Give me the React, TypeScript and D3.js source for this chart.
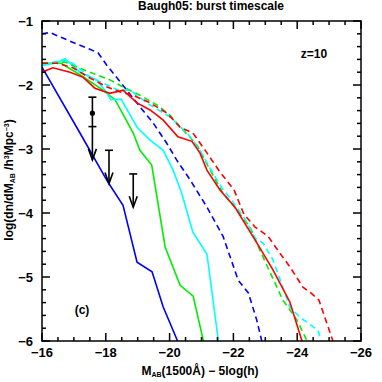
import { scaleLinear, line, range } from "d3"

// Luminosity function curves, [M_AB, log(dn/dM)]
const blueSolid: [number, number][] = [
  [-16, -1.72], [-17.19, -2.75], [-18.07, -3.52], [-18.54, -3.88], [-18.98, -4.77],
  [-19.45, -4.92], [-19.8, -5.47], [-20.25, -6.0],
]
const blueDashed: [number, number][] = [
  [-16, -1.2], [-16.25, -1.18], [-16.67, -1.27], [-17.09, -1.36], [-17.5, -1.44],
  [-17.76, -1.5], [-18.03, -1.69], [-18.45, -1.95], [-19.07, -2.34], [-19.48, -2.59],
  [-19.91, -2.91], [-20.22, -3.17], [-20.64, -3.48], [-21.16, -3.9], [-21.68, -4.37],
  [-22.15, -5.05], [-22.47, -5.25], [-22.73, -5.67], [-22.89, -6.0],
]
const greenSolid: [number, number][] = [
  [-16, -1.66], [-16.6, -1.66], [-17.19, -1.84], [-17.82, -2.05], [-18.29, -2.23],
  [-18.86, -2.75], [-19.07, -3.02], [-19.44, -3.25], [-19.86, -4.53], [-20.33, -5.13],
  [-20.74, -5.3], [-21.06, -6.0],
]
const greenDashed: [number, number][] = [
  [-16, -1.66], [-16.72, -1.64], [-17.1, -1.72], [-17.5, -1.8], [-18.13, -1.92],
  [-18.54, -2.03], [-19.07, -2.16], [-19.6, -2.31], [-20.01, -2.47], [-20.42, -2.7],
  [-20.86, -2.94], [-21.27, -3.33], [-21.67, -3.69], [-21.99, -3.88], [-22.52, -4.22],
  [-22.83, -4.58], [-23.55, -5.36], [-23.99, -5.67], [-24.31, -6.0],
]
const cyanSolid: [number, number][] = [
  [-16, -1.69], [-16.41, -1.66], [-16.72, -1.59], [-17.19, -1.8], [-17.72, -1.92],
  [-18.04, -2.13], [-18.16, -2.23], [-18.48, -2.22], [-18.98, -2.66], [-19.39, -2.86],
  [-19.8, -3.02], [-20.11, -3.33], [-20.38, -3.69], [-20.73, -4.3], [-21.17, -4.64],
  [-21.53, -6.0],
]
const cyanDashed: [number, number][] = [
  [-16, -1.69], [-16.66, -1.61], [-16.97, -1.66], [-17.5, -1.88], [-17.91, -1.97],
  [-18.38, -2.08], [-18.76, -2.08], [-19.29, -2.28], [-20.01, -2.5], [-20.55, -2.75],
  [-20.95, -3.02], [-21.36, -3.38], [-21.64, -3.61], [-21.99, -3.83], [-22.36, -4.09],
  [-22.68, -4.39], [-22.93, -4.47], [-23.24, -4.73], [-23.77, -5.47], [-24.09, -5.63],
  [-24.65, -5.83], [-24.75, -6.0],
]
const redSolid: [number, number][] = [
  [-16, -1.8], [-16.34, -1.73], [-16.88, -1.8], [-17.29, -1.88], [-17.66, -2.05],
  [-18.13, -2.13], [-18.54, -2.08], [-18.98, -2.28], [-19.39, -2.39], [-19.8, -2.55],
  [-20.26, -2.81], [-20.7, -2.88], [-20.95, -3.06], [-21.17, -3.33], [-21.58, -3.64],
  [-22.05, -3.91], [-22.74, -4.47], [-23.24, -4.89], [-23.77, -5.39], [-24.15, -6.0],
]
const redDashed: [number, number][] = [
  [-16, -1.66], [-16.47, -1.66], [-16.97, -1.73], [-17.5, -1.89], [-18.04, -2.03],
  [-18.45, -2.11], [-18.86, -2.16], [-19.39, -2.28], [-19.92, -2.44], [-20.33, -2.66],
  [-20.73, -2.75], [-21.17, -3.06], [-21.58, -3.36], [-22.02, -3.64], [-22.33, -4.02],
  [-22.68, -4.22], [-23.08, -4.36], [-23.46, -4.63], [-23.77, -4.84], [-24.18, -5.16],
  [-24.43, -5.25], [-24.68, -5.36], [-25.12, -6.0],
]

// observations: point with error bar, and upper limits drawn as arrows
const obsPoint = { x: -17.58, y: -2.44, hi: -2.19, lo: -2.65 }
const limitX = [-17.58, -18.1, -18.86]
const limitY = [-2.65, -3.02, -3.39]
const arrowLen = 0.52

const xTicks = [-16, -18, -20, -22, -24, -26]
const yTicks = [-1, -2, -3, -4, -5, -6]

const curves = [
  { data: blueSolid, color: "#0000ff", dash: null },
  { data: greenSolid, color: "#00ee00", dash: null },
  { data: cyanSolid, color: "#00ffff", dash: null },
  { data: blueDashed, color: "#0000ff", dash: "6,4" },
  { data: greenDashed, color: "#00ee00", dash: "6,4" },
  { data: cyanDashed, color: "#00ffff", dash: "6,4" },
  { data: redDashed, color: "#ff0000", dash: "6,4" },
  { data: redSolid, color: "#ff0000", dash: null },
]

export default function App() {
  const W = 382, H = 382
  const left = 42, right = 361, top = 21, bottom = 341
  const x = scaleLinear([-16, -26], [left, right])
  const y = scaleLinear([-1, -6], [top, bottom])
  const path = line<[number, number]>().x(d => x(d[0])).y(d => y(d[1]))

  const font = "'Liberation Sans', Arial, sans-serif"
  const xMinor = range(-16, -26.01, -0.5)
  const yMinor = range(-1, -6.01, -0.2)

  return (
    <svg width={W} height={H} style={{ position: "absolute", left: 0, top: 0, background: "#fff" }}
      fontFamily={font} fontWeight="bold">
      <defs>
        <clipPath id="plot">
          <rect x={left} y={top} width={right - left} height={bottom - top} />
        </clipPath>
      </defs>

      {/* curves */}
      <g clipPath="url(#plot)" fill="none" strokeWidth={1.6}>
        {curves.map((c, i) => (
          <path key={i} d={path(c.data) ?? ""} stroke={c.color}
            strokeDasharray={c.dash ?? undefined} />
        ))}
      </g>

      {/* observations */}
      <g stroke="#000" strokeWidth={1.6} fill="none">
        <line x1={x(obsPoint.x)} x2={x(obsPoint.x)} y1={y(obsPoint.hi)} y2={y(obsPoint.lo)} />
        <line x1={x(obsPoint.x) - 4} x2={x(obsPoint.x) + 4} y1={y(obsPoint.hi)} y2={y(obsPoint.hi)} />
        <circle cx={x(obsPoint.x)} cy={y(obsPoint.y)} r={1.8} fill="#000" />
        {limitX.map((lx, i) => {
          const px = x(lx), y0 = y(limitY[i]), y1 = y(limitY[i] - arrowLen)
          return (
            <g key={i}>
              <line x1={px - 4} x2={px + 4} y1={y0} y2={y0} />
              <line x1={px} x2={px} y1={y0} y2={y1} />
              <path d={`M${px - 4},${y1 - 11}L${px},${y1}L${px + 4},${y1 - 11}`} />
            </g>
          )
        })}
      </g>

      {/* frame + ticks */}
      <g stroke="#000" strokeWidth={1.5}>
        <rect x={left} y={top} width={right - left} height={bottom - top} fill="none" />
        {xMinor.map((t, i) => {
          const len = Math.abs(t % 2) < 1e-6 ? 8 : 4
          return (
            <g key={i}>
              <line x1={x(t)} x2={x(t)} y1={bottom} y2={bottom - len} />
              <line x1={x(t)} x2={x(t)} y1={top} y2={top + len} />
            </g>
          )
        })}
        {yMinor.map((t, i) => {
          const len = Math.abs(t - Math.round(t)) < 1e-6 ? 8 : 4
          return (
            <g key={i}>
              <line x1={left} x2={left + len} y1={y(t)} y2={y(t)} />
              <line x1={right} x2={right - len} y1={y(t)} y2={y(t)} />
            </g>
          )
        })}
      </g>

      {/* tick labels */}
      <g fontSize={13} fill="#000">
        {xTicks.map(t => (
          <text key={t} x={x(t)} y={357} textAnchor="middle">{"\u2212" + Math.abs(t)}</text>
        ))}
        {yTicks.map(t => (
          <text key={t} x={33} y={y(t) + 5} textAnchor="end">{"\u2212" + Math.abs(t)}</text>
        ))}
      </g>

      <text x={211} y={10} textAnchor="middle" fontSize={12}>Baugh05: burst timescale</text>
      <text x={314} y={58} textAnchor="middle" fontSize={12}>z=10</text>
      <text x={82} y={314} textAnchor="middle" fontSize={12}>(c)</text>

      <text x={200} y={375} textAnchor="middle" fontSize={12}>
        M<tspan fontSize={7} dy={2}>AB</tspan><tspan dy={-2}>(1500Å) − 5log(h)</tspan>
      </text>

      <text transform="translate(13,180) rotate(-90)" textAnchor="middle" fontSize={12}>
        log(dn/dM<tspan fontSize={7} dy={2}>AB</tspan><tspan dy={-2}> /h</tspan>
        <tspan fontSize={7} dy={-4}>3</tspan><tspan dy={4}>Mpc</tspan>
        <tspan fontSize={7} dy={-4}>−3</tspan><tspan dy={4}>)</tspan>
      </text>
    </svg>
  )
}
